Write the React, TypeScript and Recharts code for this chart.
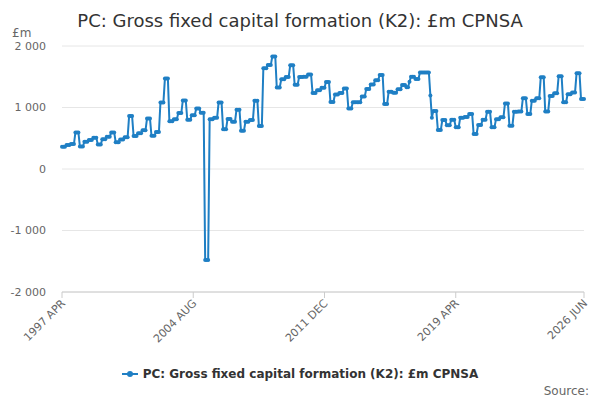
import React from "react";
import { LineChart, Line, XAxis, YAxis, CartesianGrid } from "recharts";

if (typeof document !== "undefined") {
  document.body.style.margin = "0";
}

// Fiscal-year blocks (APR..MAR), £m
const fy1997 = [360, 360, 360, 390, 390, 390, 405, 405, 405, 595, 595, 595];
const fy1998 = [365, 365, 365, 445, 445, 445, 470, 470, 470, 510, 510, 510];
const fy1999 = [400, 400, 400, 485, 485, 485, 525, 525, 525, 595, 595, 595];
const fy2000 = [435, 435, 435, 480, 480, 480, 515, 515, 515, 860, 860, 860];
const fy2001 = [535, 535, 535, 580, 580, 580, 630, 630, 630, 820, 820, 820];
const fy2002 = [540, 540, 540, 600, 600, 600, 1080, 1080, 1080, 1470, 1470, 1470];
const fy2003 = [775, 775, 775, 810, 810, 810, 910, 910, 910, 1115, 1115, 1115];
const fy2004 = [800, 800, 800, 875, 875, 875, 985, 985, 985, 915, 915, 915];
const fy2005 = [-1480, -1480, -1480, 810, 810, 810, 835, 835, 835, 1080, 1080, 1080];
const fy2006 = [645, 645, 645, 815, 815, 815, 770, 770, 770, 965, 965, 965];
const fy2007 = [620, 620, 620, 770, 770, 770, 795, 795, 795, 1110, 1110, 1110];
const fy2008 = [700, 700, 700, 1640, 1640, 1640, 1690, 1690, 1690, 1830, 1830, 1830];
const fy2009 = [1325, 1325, 1325, 1460, 1460, 1460, 1495, 1495, 1495, 1685, 1685, 1685];
const fy2010 = [1370, 1370, 1370, 1495, 1495, 1495, 1500, 1500, 1500, 1535, 1535, 1535];
const fy2011 = [1235, 1235, 1235, 1280, 1280, 1280, 1320, 1320, 1320, 1415, 1415, 1415];
const fy2012 = [1090, 1090, 1090, 1210, 1210, 1210, 1235, 1235, 1235, 1310, 1310, 1310];
const fy2013 = [985, 985, 985, 1085, 1085, 1085, 1085, 1085, 1085, 1180, 1180, 1180];
const fy2014 = [1300, 1300, 1300, 1375, 1375, 1375, 1445, 1445, 1445, 1530, 1530, 1530];
const fy2015 = [1055, 1055, 1055, 1255, 1255, 1255, 1240, 1240, 1240, 1295, 1295, 1295];
const fy2016 = [1365, 1365, 1365, 1330, 1330, 1420, 1500, 1500, 1500, 1465, 1465, 1465];
const fy2017 = [1570, 1570, 1570, 1570, 1570, 1570, 1570, 1195, 835, 945, 945, 945];
const fy2018 = [635, 635, 635, 795, 795, 795, 710, 710, 710, 800, 800, 800];
const fy2019 = [680, 680, 680, 835, 835, 835, 845, 845, 845, 895, 895, 895];
const fy2020 = [570, 570, 570, 715, 715, 715, 800, 800, 800, 930, 930, 930];
const fy2021 = [680, 680, 680, 810, 810, 810, 840, 840, 840, 1065, 1065, 1065];
const fy2022 = [705, 705, 705, 930, 930, 930, 935, 935, 935, 1150, 1150, 1150];
const fy2023 = [895, 895, 895, 1110, 1110, 1110, 1150, 1150, 1150, 1490, 1490, 1490];
const fy2024 = [935, 935, 935, 1185, 1185, 1185, 1230, 1230, 1230, 1510, 1510, 1510];
const fy2025 = [1085, 1085, 1085, 1215, 1215, 1215, 1245, 1245, 1245, 1555, 1555, 1555];
const fy2026 = [1140, 1140, 1140];

const seriesValues = [
  ...fy1997, ...fy1998, ...fy1999, ...fy2000, ...fy2001, ...fy2002, ...fy2003,
  ...fy2004, ...fy2005, ...fy2006, ...fy2007, ...fy2008, ...fy2009, ...fy2010,
  ...fy2011, ...fy2012, ...fy2013, ...fy2014, ...fy2015, ...fy2016, ...fy2017,
  ...fy2018, ...fy2019, ...fy2020, ...fy2021, ...fy2022, ...fy2023, ...fy2024,
  ...fy2025, ...fy2026,
];

const monthNames = ["JAN", "FEB", "MAR", "APR", "MAY", "JUN", "JUL", "AUG", "SEP", "OCT", "NOV", "DEC"];
const startYear = 1997;
const startMonth = 3; // APR

const categories = seriesValues.map((_, i) => {
  const k = startMonth + i;
  return `${startYear + Math.floor(k / 12)} ${monthNames[k % 12]}`;
});

const xTickLabels = ["1997 APR", "2004 AUG", "2011 DEC", "2019 APR", "2026 JUN"];
const yTicks = [-2000, -1000, 0, 1000, 2000];

const seriesName = "PC: Gross fixed capital formation (K2): £m CPNSA";
const titleText = "PC: Gross fixed capital formation (K2): £m CPNSA";

const data = categories.map((c, i) => ({ month: c, value: seriesValues[i] }));

const COLOR = "#1f7fc4";
const FONT = "'DejaVu Sans', sans-serif";

const fmt = (v: number) => {
  const s = Math.abs(v).toString().replace(/\B(?=(\d{3})+(?!\d))/g, " ");
  return (v < 0 ? "-" : "") + s;
};

const XTick = (props: any) => {
  const { x, y, payload } = props;
  return (
    <text
      x={x + 4}
      y={y + 4}
      transform={`rotate(-45 ${x + 4} ${y + 4})`}
      textAnchor="end"
      fill="#666666"
      fontSize={11}
      fontFamily={FONT}
    >
      {payload.value}
    </text>
  );
};

export default function App() {
  return (
    <div style={{ position: "relative", width: 600, height: 400, fontFamily: FONT, background: "#fff" }}>
      <div
        style={{
          position: "absolute",
          top: 10,
          left: 0,
          width: 600,
          textAlign: "center",
          fontSize: 18,
          color: "#333333",
          lineHeight: "22px",
        }}
      >
        {titleText}
      </div>
      <div style={{ position: "absolute", top: 26, left: 12, fontSize: 12, color: "#666666" }}>£m</div>
      <LineChart width={600} height={400} data={data} margin={{ top: 46, right: 16, bottom: 0, left: 0 }}>
        <CartesianGrid vertical={false} stroke="#e6e6e6" />
        <XAxis
          dataKey="month"
          ticks={xTickLabels}
          interval={0}
          height={108}
          tick={<XTick />}
          tickSize={6}
          tickMargin={2}
          axisLine={{ stroke: "#cccccc" }}
          tickLine={{ stroke: "#cccccc" }}
        />
        <YAxis
          width={62}
          domain={[-2000, 2000]}
          ticks={yTicks}
          tickFormatter={fmt}
          axisLine={false}
          tickLine={false}
          tickSize={0}
          tickMargin={16}
          tick={{ fill: "#666666", fontSize: 11, fontFamily: FONT }}
        />
        <Line
          type="linear"
          dataKey="value"
          name={seriesName}
          stroke={COLOR}
          strokeWidth={2}
          dot={{ r: 2, fill: COLOR, stroke: COLOR, strokeWidth: 0 }}
          isAnimationActive={false}
        />
      </LineChart>
      <div
        style={{
          position: "absolute",
          top: 367,
          left: 0,
          width: 600,
          display: "flex",
          justifyContent: "center",
          alignItems: "center",
        }}
      >
        <svg width={16} height={12} style={{ marginRight: 5 }}>
          <line x1={0} y1={6} x2={16} y2={6} stroke={COLOR} strokeWidth={2} />
          <circle cx={8} cy={6} r={3} fill={COLOR} />
        </svg>
        <span style={{ fontSize: 12, fontWeight: "bold", color: "#333333" }}>{seriesName}</span>
      </div>
      <div style={{ position: "absolute", top: 384, right: 11, fontSize: 12, color: "#666666" }}>Source:</div>
    </div>
  );
}
